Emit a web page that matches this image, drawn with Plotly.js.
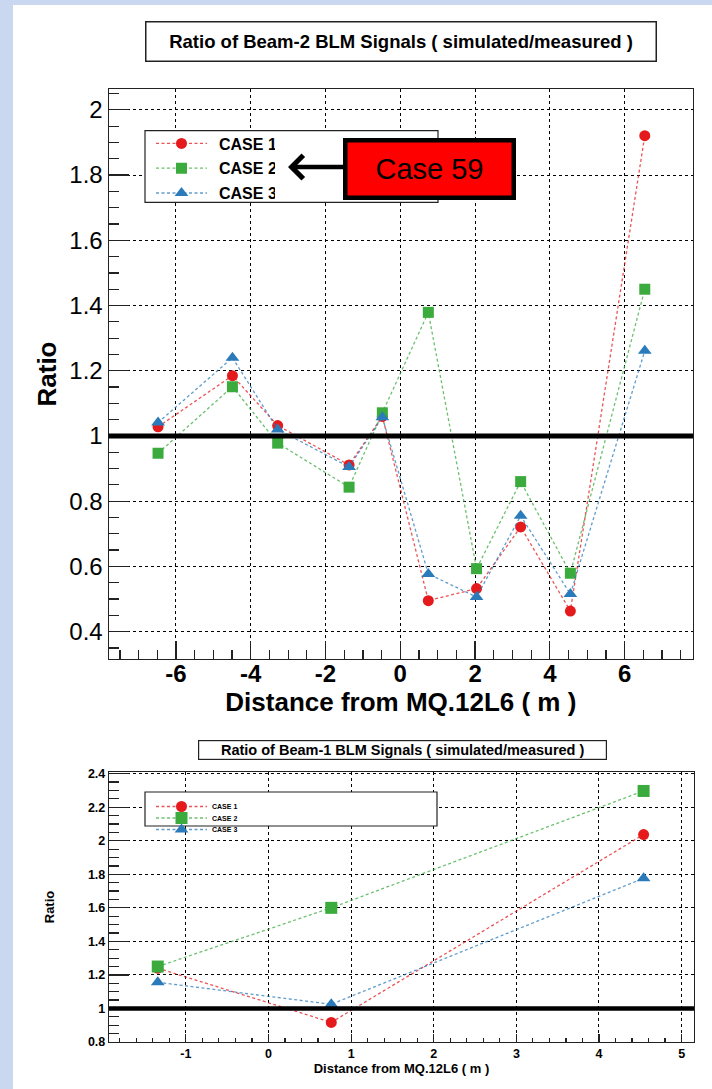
<!DOCTYPE html>
<html><head><meta charset="utf-8">
<script src="https://cdn.plot.ly/plotly-3.0.1.min.js"></script>
<style>
html,body{margin:0;padding:0;background:#c9d8f0;width:712px;height:1089px;overflow:hidden}
#bg{position:absolute;left:13px;top:5px;width:699px;height:1084px;background:#fff}
#chart{position:absolute;left:0;top:0;width:712px;height:1089px}
</style></head><body><div id="bg"></div><div id="chart"></div>
<script>
// ---------- data ----------
const caseNames = ['CASE 1', 'CASE 2', 'CASE 3'];
const beam2Distance = [-6.48, -4.49, -3.28, -1.37, -0.48, 0.75, 2.04, 3.22, 4.55, 6.54];
const beam2Case1 = [1.028, 1.185, 1.032, 0.911, 1.06, 0.495, 0.532, 0.721, 0.463, 1.921];
const beam2Case2 = [0.947, 1.151, 0.978, 0.843, 1.071, 1.379, 0.593, 0.86, 0.579, 1.45];
const beam2Case3 = [1.041, 1.24, 1.02, 0.905, 1.057, 0.577, 0.506, 0.755, 0.515, 1.261];
const beam1Distance = [-1.34, 0.76, 4.54];
const beam1Case1 = [1.24, 0.917, 2.037];
const beam1Case2 = [1.25, 1.6, 2.297];
const beam1Case3 = [1.156, 1.025, 1.776];
const referenceRatio = 1;
const topXTickVals = [-6, -4, -2, 0, 2, 4, 6];
const topXTickText = ['-6', '-4', '-2', '0', '2', '4', '6'];
const botXTickVals = [-1, 0, 1, 2, 3, 4, 5];
const botXTickText = ['-1', '0', '1', '2', '3', '4', '5'];
const topTitle = 'Ratio of Beam-2 BLM Signals ( simulated/measured )';
const botTitle = 'Ratio of Beam-1 BLM Signals ( simulated/measured )';
const xTitle = 'Distance from MQ.12L6 ( m )';
const yTitle = 'Ratio';
const calloutText = 'Case 59';

// ---------- styling ----------
const W = 712, H = 1089;
const px = v => v / W;
const py = v => (H - v) / H;
const FONT = 'Liberation Sans, Arial, sans-serif';
const markerColors = ['#e41a1c', '#3aab3c', '#2b7bba'];
const lineColors = ['rgba(228,26,28,0.75)', 'rgba(58,171,60,0.75)', 'rgba(43,123,186,0.75)'];
const symbols = ['circle', 'square', 'triangle-up'];
const topSizes = [11, 11, 12];
const botSizes = [11, 12, 12];

const traces = [];
[beam2Case1, beam2Case2, beam2Case3].forEach((ys, i) => {
  traces.push({
    type: 'scatter', mode: 'lines+markers', name: caseNames[i],
    x: beam2Distance, y: ys, xaxis: 'x', yaxis: 'y', legend: 'legend', legendgroup: 'g' + i,
    line: {color: lineColors[i], width: 1.3, dash: '3px,2.5px'},
    marker: {color: markerColors[i], symbol: symbols[i], size: topSizes[i], line: {width: 0}}
  });
});
[beam1Case1, beam1Case2, beam1Case3].forEach((ys, i) => {
  traces.push({
    type: 'scatter', mode: 'lines+markers', name: caseNames[i],
    x: beam1Distance, y: ys, xaxis: 'x2', yaxis: 'y2', legend: 'legend2', legendgroup: 'h' + i,
    line: {color: lineColors[i], width: 1.3, dash: '3px,2.5px'},
    marker: {color: markerColors[i], symbol: symbols[i], size: botSizes[i], line: {width: 0}}
  });
});

function axisBase() {
  return {
    showline: true, linecolor: '#222', linewidth: 1.2, mirror: true,
    showgrid: true, gridcolor: '#000', griddash: 'dot', gridwidth: 1,
    zeroline: false, ticks: 'inside', tickcolor: '#222', tickwidth: 1.2,
    automargin: false, fixedrange: true
  };
}

const layout = {
  width: W, height: H, autosize: false,
  margin: {l: 0, r: 0, t: 0, b: 0},
  paper_bgcolor: 'rgba(0,0,0,0)', plot_bgcolor: '#fff',
  font: {family: FONT, color: '#000'},
  xaxis: Object.assign(axisBase(), {
    domain: [px(108.7), px(693)], range: [-7.8, 7.83], anchor: 'y',
    tickmode: 'array', tickvals: topXTickVals, ticktext: topXTickText, ticklen: 18,
    ticklabelstandoff: -7,
    minor: {tickmode: 'linear', tick0: 0, dtick: 0.5, ticks: 'inside', ticklen: 9, tickcolor: '#222', tickwidth: 1.2, showgrid: false},
    tickfont: {family: FONT, size: 24, weight: 'bold'},
    title: {text: xTitle, font: {family: FONT, size: 26, weight: 'bold'}, standoff: 6}
  }),
  yaxis: Object.assign(axisBase(), {
    domain: [py(659), py(89)], range: [0.316, 2.064], anchor: 'x',
    tick0: 0, dtick: 0.2, ticklen: 20,
    minor: {tick0: 0, dtick: 0.05, ticks: 'inside', ticklen: 10, tickcolor: '#222', tickwidth: 1.2, showgrid: false},
    tickfont: {family: FONT, size: 24},
    title: {text: yTitle, font: {family: FONT, size: 26, weight: 'bold'}, standoff: 5}
  }),
  xaxis2: Object.assign(axisBase(), {
    domain: [px(109), px(694)], range: [-1.93, 5.15], anchor: 'y2',
    tickmode: 'array', tickvals: botXTickVals, ticktext: botXTickText, ticklen: 8,
    minor: {tickmode: 'linear', tick0: 0, dtick: 0.2, ticks: 'inside', ticklen: 4, tickcolor: '#222', tickwidth: 1.2, showgrid: false},
    tickfont: {family: FONT, size: 12.5, weight: 'bold'},
    title: {text: xTitle, font: {family: FONT, size: 13, weight: 'bold'}, standoff: 0}
  }),
  yaxis2: Object.assign(axisBase(), {
    domain: [py(1042), py(772)], range: [0.8, 2.41], anchor: 'x2',
    tick0: 0, dtick: 0.2, ticklen: 20,
    minor: {tick0: 0, dtick: 0.05, ticks: 'inside', ticklen: 10, tickcolor: '#222', tickwidth: 1.2, showgrid: false},
    tickfont: {family: FONT, size: 12.5, weight: 'bold'},
    title: {text: yTitle, font: {family: FONT, size: 13, weight: 'bold'}, standoff: 30}
  }),
  legend: {
    x: px(151), y: py(126.5), xanchor: 'left', yanchor: 'top',
    bgcolor: 'rgba(0,0,0,0)', borderwidth: 0, itemwidth: 51, tracegroupgap: 1,
    traceorder: 'grouped', itemclick: false, itemdoubleclick: false,
    font: {family: FONT, size: 16, weight: 'bold'}
  },
  legend2: {
    x: px(151), y: py(792), xanchor: 'left', yanchor: 'top',
    bgcolor: 'rgba(0,0,0,0)', borderwidth: 0, itemwidth: 51, tracegroupgap: 0,
    traceorder: 'grouped', itemclick: false, itemdoubleclick: false,
    font: {family: FONT, size: 7, weight: 'bold'}
  },
  shapes: [
    {type: 'line', xref: 'x domain', yref: 'y', x0: 0, x1: 1, y0: referenceRatio, y1: referenceRatio,
     line: {color: '#000', width: 5}, layer: 'above'},
    {type: 'line', xref: 'x2 domain', yref: 'y2', x0: 0, x1: 1, y0: referenceRatio, y1: referenceRatio,
     line: {color: '#000', width: 4.5}, layer: 'above'},
    {type: 'rect', xref: 'paper', yref: 'paper', x0: px(145), x1: px(438), y0: py(202.3), y1: py(130.7),
     fillcolor: '#fff', line: {color: '#222', width: 1.2}, layer: 'above'},
    {type: 'rect', xref: 'paper', yref: 'paper', x0: px(145), x1: px(437), y0: py(826), y1: py(792),
     fillcolor: '#fff', line: {color: '#222', width: 1.2}, layer: 'above'}
  ],
  annotations: [
    {xref: 'paper', yref: 'paper', x: px(401), y: py(41), xanchor: 'center', yanchor: 'middle',
     text: topTitle, showarrow: false,
     font: {family: FONT, size: 18.5, weight: 'bold'}, bordercolor: '#222', borderwidth: 1.5, borderpad: 0,
     bgcolor: '#fff', width: 509, height: 38},
    {xref: 'paper', yref: 'paper', x: px(402.5), y: py(750), xanchor: 'center', yanchor: 'middle',
     text: botTitle, showarrow: false,
     font: {family: FONT, size: 14.5, weight: 'bold'}, bordercolor: '#222', borderwidth: 1.2, borderpad: 0,
     bgcolor: '#fff', width: 407, height: 18},
    {xref: 'paper', yref: 'paper', x: px(288), y: py(167), text: '', showarrow: true,
     ax: 58, ay: 0, axref: 'pixel', ayref: 'pixel', arrowhead: 4, arrowsize: 1, arrowwidth: 4.5,
     arrowcolor: '#000', standoff: 0, startstandoff: 0},
    {xref: 'paper', yref: 'paper', x: px(429.7), y: py(169), xanchor: 'center', yanchor: 'middle',
     text: calloutText, showarrow: false,
     font: {family: FONT, size: 29, color: '#000'}, bgcolor: '#ff0000', bordercolor: '#000',
     borderwidth: 4.5, borderpad: 0, width: 164, height: 53}
  ]
};

Plotly.newPlot('chart', traces, layout, {displayModeBar: false, staticPlot: true}).then(gd => {
  // nudge legend texts right, and compact the small Beam-1 legend to the reference spacing
  ['g.legend', 'g.legend2'].forEach((sel, k) => {
    const g = gd.querySelector(sel);
    if (!g) return;
    g.querySelectorAll('text.legendtext').forEach(t => {
      t.setAttribute('transform', 'translate(' + (k === 0 ? 7 : 6) + ',0)');
    });
    if (k === 1) {
      const items = g.querySelectorAll('g.traces');
      let y0 = null;
      items.forEach((it, i) => {
        const tr = it.getAttribute('transform') || '';
        const m = tr.match(/translate\(([-\d.]+)[ ,]+([-\d.]+)\)/);
        if (m) {
          if (y0 === null) y0 = parseFloat(m[2]);
          it.setAttribute('transform', 'translate(' + m[1] + ',' + (y0 + i * 11.5) + ')');
        }
      });
    }
  });
});
</script></body></html>
